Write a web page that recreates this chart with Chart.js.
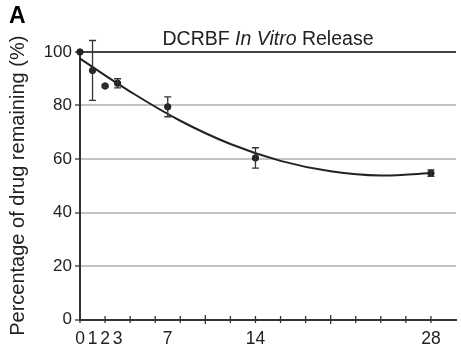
<!DOCTYPE html>
<html>
<head>
<meta charset="utf-8">
<script src="https://cdn.jsdelivr.net/npm/chart.js@4"></script>
<style>
  html, body { margin: 0; padding: 0; background: #fff; }
  #wrap { width: 461px; height: 350px; }
</style>
</head>
<body>
<div id="wrap"><canvas id="releaseChart" width="461" height="350"></canvas></div>
<script>
// measured release, days vs % remaining
const sampleDays = [0, 1, 2, 3, 7, 14, 28];
const percentRemaining = [100, 93.1, 87.3, 88.3, 79.5, 60.4, 54.7];
const errorSize = [0, 11.2, 0.5, 1.7, 3.7, 3.8, 1.2];

// fitted trend
const trendDays = [0, 4, 8, 12, 16, 20, 24, 28];
const trendValues = [97.5, 85.2, 74.3, 65.6, 59.3, 55.4, 53.8, 54.8];

const labelDays = [0, 1, 2, 3, 7, 14, 28];
const markDays = [0, 2, 4, 6, 8, 10, 12, 14, 16, 18, 20, 22, 24, 26, 28];
const majorMarkDays = [10, 20];
const yTicks = [0, 20, 40, 60, 80, 100];

const fontFamily = "'Liberation Sans', Arial, sans-serif";
const ink = "#222";

const errorBars = {
  id: "errorBars",
  afterDatasetsDraw(chart) {
    const { ctx, scales: { x, y } } = chart;
    ctx.save();
    ctx.strokeStyle = "#333";
    ctx.lineWidth = 1.3;
    sampleDays.forEach((day, index) => {
      if (!errorSize[index]) return;
      const px = x.getPixelForValue(day);
      const top = y.getPixelForValue(percentRemaining[index] + errorSize[index]);
      const bottom = y.getPixelForValue(percentRemaining[index] - errorSize[index]);
      ctx.beginPath();
      ctx.moveTo(px, top);
      ctx.lineTo(px, bottom);
      ctx.moveTo(px - 3.5, top);
      ctx.lineTo(px + 3.5, top);
      ctx.moveTo(px - 3.5, bottom);
      ctx.lineTo(px + 3.5, bottom);
      ctx.stroke();
    });
    ctx.restore();
  }
};

const axisDecor = {
  id: "axisDecor",
  afterDraw(chart) {
    const { ctx, scales: { x, y } } = chart;
    const axisY = y.getPixelForValue(0);
    ctx.save();
    ctx.strokeStyle = "#333";
    ctx.lineWidth = 1.3;
    markDays.forEach((day) => {
      const px = x.getPixelForValue(day);
      const half = majorMarkDays.includes(day) ? 4.5 : 3.5;
      ctx.beginPath();
      ctx.moveTo(px, axisY - half);
      ctx.lineTo(px, axisY + half);
      ctx.stroke();
    });

    // panel letter
    ctx.fillStyle = "#000";
    ctx.textBaseline = "middle";
    ctx.textAlign = "left";
    ctx.font = `bold 23px ${fontFamily}`;
    ctx.fillText("A", 9, 17);

    // title with italic part
    const parts = [
      { text: "DCRBF ", style: "" },
      { text: "In Vitro", style: "italic " },
      { text: " Release", style: "" }
    ];
    let total = 0;
    parts.forEach((part) => {
      ctx.font = `${part.style}19.5px ${fontFamily}`;
      part.width = ctx.measureText(part.text).width;
      total += part.width;
    });
    let cursor = (chart.chartArea.left + chart.chartArea.right) / 2 - total / 2;
    ctx.fillStyle = ink;
    parts.forEach((part) => {
      ctx.font = `${part.style}19.5px ${fontFamily}`;
      ctx.fillText(part.text, cursor, 40);
      cursor += part.width;
    });
    ctx.restore();
  }
};

new Chart(document.getElementById("releaseChart"), {
  data: {
    datasets: [
      {
        type: "line",
        label: "Trend",
        data: trendDays.map((day, index) => ({ x: day, y: trendValues[index] })),
        borderColor: ink,
        borderWidth: 2,
        pointRadius: 0,
        tension: 0.4,
        fill: false,
        clip: false
      },
      {
        type: "scatter",
        label: "Release",
        data: sampleDays.map((day, index) => ({ x: day, y: percentRemaining[index] })),
        backgroundColor: ink,
        borderColor: ink,
        pointRadius: 3.2,
        clip: false
      }
    ]
  },
  options: {
    responsive: false,
    animation: false,
    layout: { padding: { left: 6, top: 52, right: 0, bottom: 0 } },
    plugins: { legend: { display: false }, tooltip: { enabled: false } },
    scales: {
      x: {
        type: "linear",
        min: 0,
        max: 30,
        afterBuildTicks: (scale) => { scale.ticks = labelDays.map((value) => ({ value })); },
        afterFit: (scale) => { scale.height = 30.5; },
        grid: { display: false, drawTicks: false },
        border: { display: true, color: "#333", width: 2 },
        ticks: {
          autoSkip: false,
          maxRotation: 0,
          padding: 9,
          color: ink,
          font: { family: fontFamily, size: 17.5 },
          callback: (value) => String(value)
        }
      },
      y: {
        min: 0,
        max: 100,
        afterBuildTicks: (scale) => { scale.ticks = yTicks.map((value) => ({ value })); },
        afterFit: (scale) => { scale.width = 74; },
        grid: {
          color: (c) => (c.tick && c.tick.value === 100 ? "#444" : "#c4c4c4"),
          lineWidth: 2,
          tickColor: "#333",
          tickLength: 5,
          tickWidth: 1.3
        },
        border: { display: true, color: "#333", width: 2 },
        ticks: {
          padding: 3,
          color: ink,
          font: { family: fontFamily, size: 17 }
        },
        title: {
          display: true,
          text: "Percentage of drug remaining (%)",
          color: ink,
          font: { family: fontFamily, size: 20 },
          padding: { top: 0, bottom: 2 }
        }
      }
    }
  },
  plugins: [errorBars, axisDecor]
});
</script>
</body>
</html>
